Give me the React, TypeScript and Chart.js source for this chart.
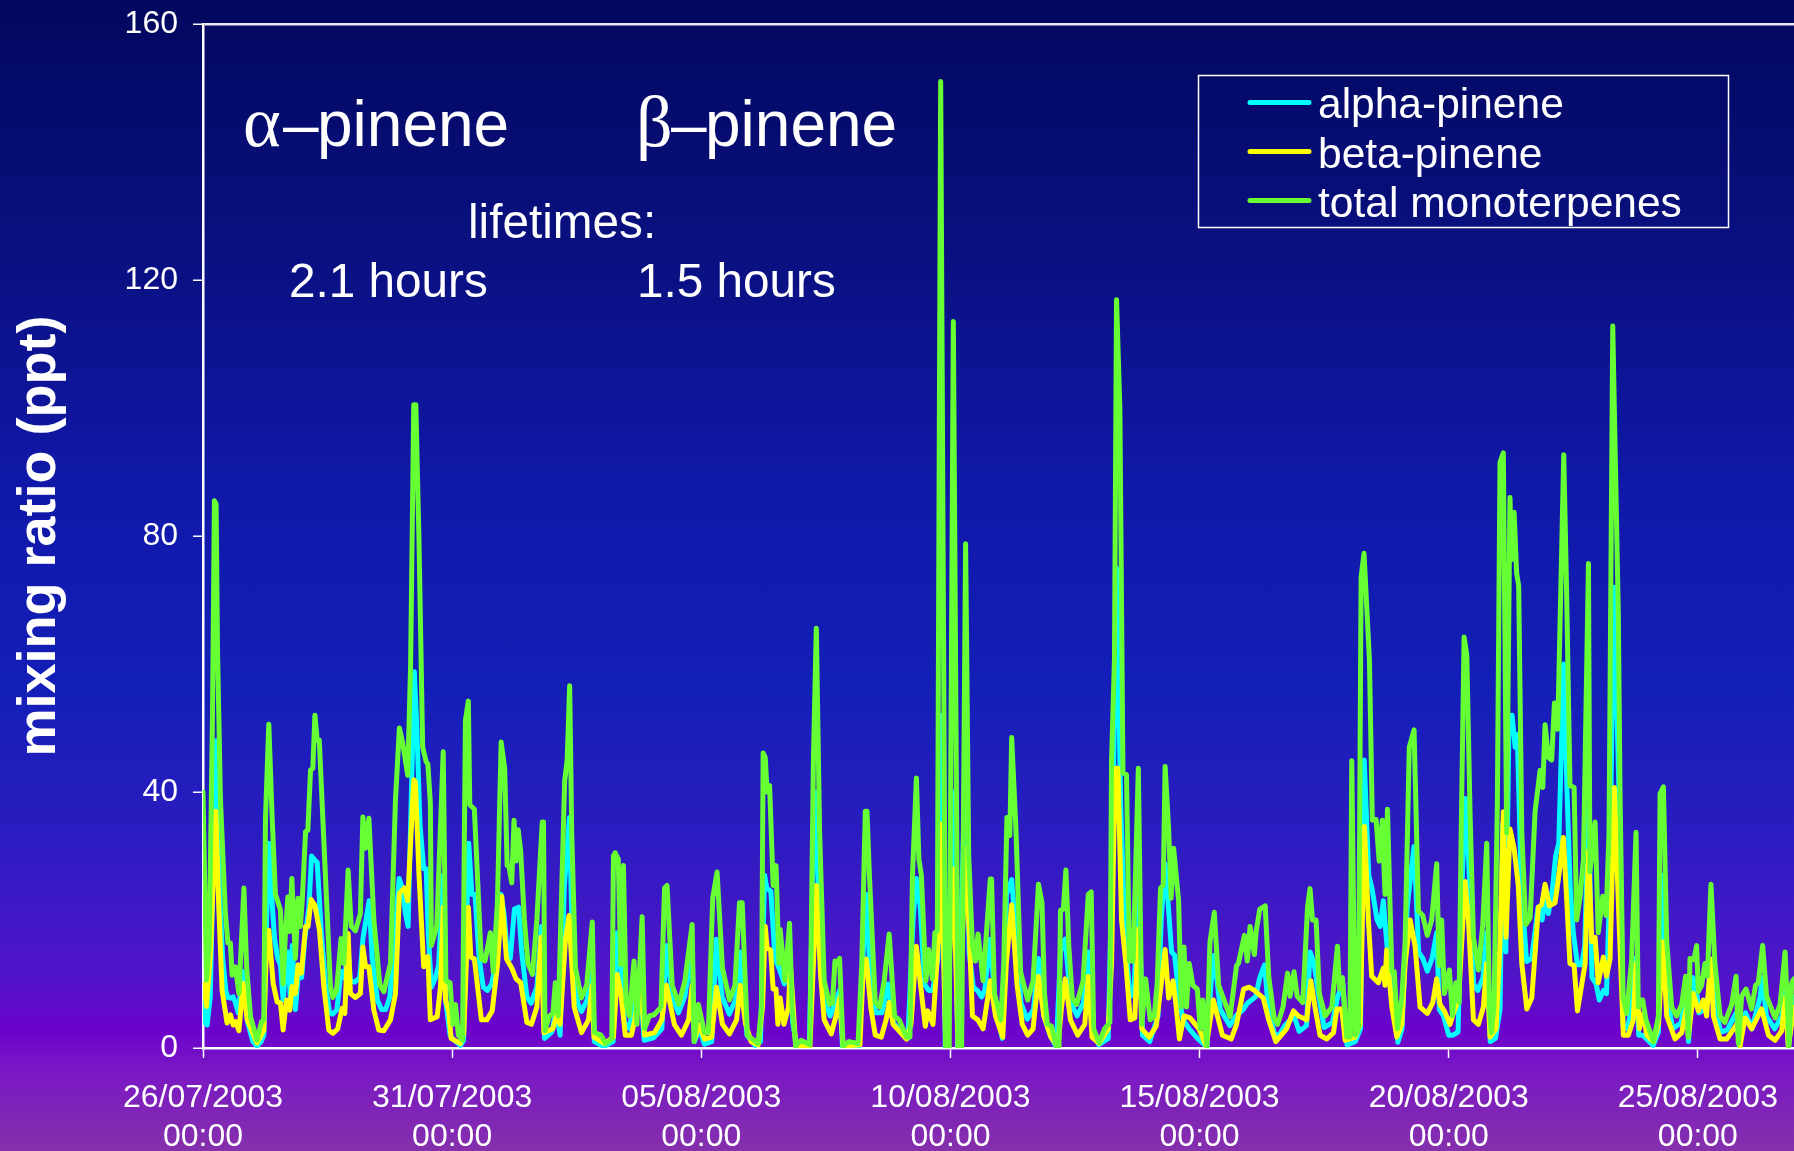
import React, { useEffect, useRef } from "react";
import { Chart, registerables } from "chart.js";

Chart.register(...registerables);

const dateLabels = ["26/07/2003", "31/07/2003", "05/08/2003", "10/08/2003", "15/08/2003", "20/08/2003", "25/08/2003"];
const timeLabel = "00:00";
const seriesNames = ["alpha-pinene", "beta-pinene", "total monoterpenes"];

// [hours since 26/07/2003 00:00, mixing ratio in ppt]
const totalMonoterpenes = [
[0,40],[1.7,10.6],[3,16],[4.5,50],[5.5,85.5],[6.3,85],[7,62],[8.4,38.8],[10.8,21],[12,16.4],[13.2,16.4],[14,11.4],[15.6,12.7],[17.3,8.5],[19.7,25],[21,12.7],[22.9,4.9],[26,1.2],[28.2,4.1],[29.3,4.4],[30.1,36],[31.7,50.6],[33.3,36],[34.9,24],[37.3,21.6],[38.6,10],[39.7,18],[40.9,23.6],[41.7,18.2],[42.8,26.5],[44.5,14],[45.8,23.4],[46.9,19],[47.8,23],[49.4,33.8],[50.5,34],[51.8,43.4],[52.9,43.7],[53.9,52],[55,48.1],[56,48.1],[59.8,21],[61.4,9.6],[62.5,7.9],[64.3,9],[66.5,17.1],[67.8,13.2],[69.9,27.8],[71.4,19],[73.4,18.3],[75.8,21],[77,36.1],[78.3,31.2],[79.9,35.9],[82.3,20],[85.2,9.8],[87.1,8.8],[90.3,13.2],[92.7,38.8],[94.6,50],[96.2,47.6],[98.6,42.6],[100,60],[101.5,100.5],[102.5,100.5],[104,79.7],[105.8,47],[107.5,44.7],[108.3,44.4],[109.5,38.3],[110,16],[112.6,19],[115.7,46.3],[117,10.5],[119,10.2],[120.4,3.7],[121.6,6.8],[123,2],[125,1.2],[126.4,51.2],[127.8,54.2],[128.5,38],[130.7,37.3],[132.4,25.4],[134,13.9],[135.8,13.6],[138.4,18],[139.8,11.9],[141.8,22.7],[143.6,47.8],[145.3,43.7],[146.5,28.5],[147.3,28.5],[148.7,25.8],[149.8,35.6],[150.8,29.2],[151.8,34.1],[153,30.8],[154.8,20],[156.5,13.2],[158.7,11.5],[160.8,20],[163.4,35.3],[164,35.3],[164.7,2.7],[166.8,5],[168.5,5.4],[169.7,10.2],[171.1,5],[174.2,41.7],[175.4,45],[176.6,56.6],[177.6,33.6],[179.4,12.5],[182.2,7.8],[184.8,9.8],[187.5,19.7],[188.5,2.4],[191.7,2],[194,0.7],[196.9,1.4],[197.7,30],[198.5,30.5],[200,29.5],[201.2,13],[202.5,28.5],[203.8,7],[205.4,5],[207.6,13.6],[209,3.7],[211.5,20.5],[212.7,3],[215,5],[217.3,5.2],[220.6,6.4],[222.3,25],[223.5,25.4],[226,9.8],[229.2,6.8],[232.1,10.5],[235.6,19.3],[236.5,1],[238.6,6.8],[241.5,2.4],[243.4,2.4],[245.5,23.4],[247.6,27.5],[250.2,12.5],[253.6,7.5],[256.2,9.8],[258.4,22.7],[259.7,22.7],[262.2,2],[267.4,0.7],[269,6.4],[269.8,46.1],[270.8,45.4],[271.7,40],[272.9,41],[274.6,25.4],[276,28.5],[277.4,13.2],[278,18.5],[280.3,10.5],[282.5,19.5],[283.7,6.4],[285.5,0.3],[288,1.2],[292.3,0.5],[294,45],[295.4,65.6],[297,33.6],[299.2,10.5],[301.8,6.8],[303.2,7],[304.4,13.6],[305.6,13.2],[306.6,14],[308.3,0.3],[311.2,1],[315.5,0.7],[317.3,13.2],[319,37],[319.8,37],[321,26.8],[323.8,7.1],[325.9,6.4],[328.1,10.5],[330.5,17.8],[333.1,5],[335.3,4.4],[338.8,1.7],[340.5,1.7],[341.7,26.8],[343.6,42.2],[344.8,29.5],[346,27],[348.2,10.5],[349.4,15.4],[351.3,10.8],[352.5,18],[353.7,18.3],[355.3,151],[357.7,0.3],[359.4,0],[361.4,113.5],[363.7,0.3],[365.4,0],[367.3,78.8],[368.8,30],[370.6,16],[372,13.6],[373.3,17.8],[375.7,10.5],[379.2,26.4],[379.8,26.4],[381.2,8.5],[384.3,4.4],[385.7,13.2],[387.2,36],[388.6,33.2],[389.5,48.5],[391.5,34.6],[393.8,11.9],[397.2,7.5],[399.8,10.5],[402.4,25.6],[404.1,22.7],[405.3,8.5],[406.7,3.7],[408.7,3.4],[411,0.3],[412.3,0.3],[413,21.5],[414.4,21.7],[415.6,27.8],[417,16],[418.7,7.8],[420.8,6.8],[423.9,10.5],[426.4,24],[427.8,24.4],[429,3],[431.6,0.8],[434.2,3],[436.8,4],[437.6,45],[439,60.7],[440,116.9],[441.6,100],[443.1,43],[444.8,42.7],[446.2,13.6],[448,13.6],[450.5,43.7],[452.2,3.7],[454,10.8],[456.2,4.4],[458.2,5],[459.6,10.2],[461.2,25],[462.5,25.4],[463.4,44],[465.1,34.2],[466.3,23.4],[467.5,31.2],[469.9,23],[471.2,6.4],[472.5,15.8],[473.7,6.4],[475,13.2],[476.8,9.8],[478.9,9.2],[480.3,3],[481.5,7.5],[483.5,0.3],[485,16.6],[487.1,21.2],[489.2,9.8],[494.7,4.9],[497.8,12.9],[498.7,13.2],[501.6,17.6],[503,13.6],[504.3,19],[506.4,14.6],[507.3,18.3],[509,21.7],[511.6,22.2],[513.3,11.2],[515.9,4.7],[517.6,3.7],[520.2,6.4],[522.4,11.7],[523.6,8.1],[525.5,11.9],[527,8.1],[529.7,7.1],[532,22],[533.2,24.9],[534.4,20],[536.1,20],[537.7,8.5],[540.5,5],[543.7,6.4],[546.4,15.9],[547.4,9.2],[548.8,11],[550.9,1.7],[552.4,1.7],[553.3,44.9],[554.9,2],[556.5,3],[557.8,73.6],[559.2,77.3],[561.8,60.7],[563.2,35.6],[565,35.7],[566.5,29.2],[568,35.6],[569.3,24],[570.5,37.3],[572.6,11.9],[573.8,11.9],[575.3,3],[577.4,7.8],[579,16.6],[581,47],[583.3,49.7],[585.4,21.4],[587.5,20.7],[589.7,17.6],[591.8,20],[594.2,28.8],[595.4,12.9],[596.6,20],[597.9,8.5],[600.3,12.2],[601.8,5],[603.4,10.2],[605,7.1],[606,33.6],[607.4,64.2],[608.7,61.4],[610.3,36.3],[611.9,17.3],[614.3,12.2],[616.4,19.3],[618.3,32],[619.6,6.4],[620.5,2.4],[621.8,6.4],[623.4,37.6],[624.7,91.5],[626.3,93],[627.9,33.6],[629.5,86],[630.3,76.3],[631.5,83.7],[632.7,74.2],[633.7,72.2],[635.2,33.6],[637.1,19.3],[639.2,20.3],[641.6,37],[644,43.4],[645.3,40.7],[646.4,50.5],[648,45.4],[649.6,45],[650.9,53.9],[652.5,49.8],[655.4,92.7],[656.8,70.8],[658.4,41],[660.4,40.7],[661.6,20],[663.2,23.4],[664.9,29.5],[667.3,75.7],[668,27.5],[670.5,35.3],[672,18],[674.2,23.7],[675.8,20.7],[677.2,33.6],[679,112.8],[681.7,67.5],[682.5,40],[684,7.8],[685.7,5.4],[688.1,13.9],[690.2,33.7],[691.3,6.4],[693.4,7.5],[695,4.4],[698.6,1],[701,5],[701.8,39.7],[703.4,40.8],[705,16.6],[707.4,6.4],[709.8,5],[712.2,6.8],[714.1,11.2],[715.4,1.7],[716.2,14],[718.1,13.8],[719.4,16],[720.2,8.8],[721.8,9.8],[723.4,13.2],[724.6,11.2],[726.3,25.6],[728.2,13.2],[730.7,5],[733,4],[736.3,6.8],[738.4,11.2],[739.5,0.7],[741.1,8.1],[743.2,9.2],[745.9,6.1],[747.8,9.8],[749.1,10.2],[751.2,16],[753.1,8.1],[757.2,4.7],[759.6,6.8],[762,15],[763.9,0.3],[765.2,10.2],[766.3,10.8],
];

const betaPinene = [
[0.4,10],[1.7,6.5],[3.6,14.8],[6.2,37],[7.6,22],[9.2,9],[11.6,3.9],[13.2,5.2],[14.5,3.6],[15.7,4.1],[17.3,2.7],[19.3,10.1],[21.3,4.4],[26,0.8],[29.3,2.8],[30.4,13.8],[31.7,18.4],[33.8,10.1],[35.7,7.2],[37.3,7],[38.6,2.8],[40.2,7.5],[41.8,5.9],[42.9,9.6],[44.5,8.5],[45.8,13],[47.4,11.7],[49.4,19],[50.6,19],[52.1,23.2],[53.9,22.3],[56.1,18.4],[58.2,9.6],[60.6,2.8],[62.5,2.3],[64.9,3],[67,6.2],[68.3,5.4],[69.9,17.9],[71,8.5],[73.4,7.9],[75.8,8.5],[77,15.8],[78.3,12.7],[79.9,12.7],[82.3,5.9],[84.7,2.8],[87.1,2.7],[90.3,4.4],[92.7,8.5],[94.6,24.2],[97,25],[98.6,23],[101.5,41.9],[102.3,41.6],[104,27.3],[106.3,12.7],[108.3,14.3],[109.5,4.4],[112.8,4.9],[114.4,9.6],[115.7,22],[116.8,7.5],[118.4,5.7],[119.5,1.5],[124,0.7],[125.6,2.3],[127.8,22],[129,14.2],[130.7,13.9],[134.1,4.4],[136.7,4.4],[139.3,5.8],[141.9,13.2],[143.9,23.7],[146.2,13.9],[148.7,12.5],[150.8,10.8],[153,10.2],[156,4],[158.2,3.7],[160.8,6.4],[162.8,17.3],[164.2,2.4],[168.5,3],[170.2,5],[172,3.7],[174.5,16.6],[176.3,20.7],[178.8,6.4],[182.3,2.4],[185.7,4.4],[187.4,9.8],[188.3,1.7],[193.4,0.7],[197.7,1.7],[199.5,11.5],[201.2,8.8],[203.4,2],[206.3,2],[208,4.4],[210.6,10.2],[212.7,2],[217.5,2.4],[221,4.4],[223.2,9.8],[227,3.7],[230.4,2],[233.9,4.4],[235.6,9.8],[236.8,1.4],[239,3.7],[241.6,1.4],[245,1.7],[247.3,9.5],[250.2,3.7],[253.6,2.2],[257,4.4],[258.8,9.8],[261.4,3.7],[264,1],[267.4,0.5],[269.5,6.4],[270.8,19],[271.7,15.6],[273.4,15.3],[274.6,9.2],[276,9.2],[276.9,3.7],[278,7.8],[279.8,3.7],[282,6.4],[282.9,13.2],[285.5,0.3],[292.3,0.3],[294,13.2],[295.4,25.4],[297.5,11.2],[299.2,4.4],[302.6,2.2],[305.2,5.4],[306.6,7.8],[308.3,0.3],[316.4,0.5],[318.1,13.2],[319.5,13.9],[321.6,6.4],[323.8,2],[326.7,1.7],[329,4.4],[330.5,7.1],[332.4,3.7],[338.8,1.4],[341,3.7],[343.6,15.9],[345.6,9.8],[347.9,3.4],[349.1,5.8],[351.6,3.7],[354.2,17.3],[355.3,35],[357.7,0.5],[361.4,28],[363.7,0.3],[367.5,31.2],[370.6,5],[373.2,4.4],[375.7,3],[379.2,10.5],[381.7,5],[385.2,1.7],[386.9,13.2],[389.5,22.4],[392.1,9.8],[394.6,3.7],[397.2,2],[399.8,3],[402.4,11.2],[405,5],[408.4,1.7],[411.8,0.3],[413.5,6.4],[415.3,10.8],[417.8,4.4],[421.3,2],[424.7,3.7],[426.4,11.2],[428.2,1.7],[431.6,0.7],[436,3],[437.6,13.2],[439.3,43.7],[440.7,43.7],[442.4,20],[444.5,13.2],[446.6,4.4],[448.8,4.7],[450.5,18.6],[452.2,3],[455.7,1.7],[459.1,3.4],[461.7,10.5],[463.4,15.4],[465.1,7.8],[467.2,10.5],[468.6,6.8],[470.3,1.4],[472.5,5],[475.4,4.7],[479.7,3],[483.2,0.3],[486.6,7.5],[491,2],[495.2,1.4],[497.8,3.7],[501.2,9.2],[503.8,9.5],[506.4,9],[510.7,7.8],[513.3,4.4],[516.7,1],[521.9,3],[525.2,5.8],[527.6,5],[531.6,4.4],[533.6,10.5],[535.6,6.4],[538,2],[541.3,1.4],[544.5,2.4],[546.1,6.1],[548.5,6.1],[550.1,1.2],[554.9,1.7],[557.3,3.7],[559.4,34.6],[561.3,20],[562.9,11.2],[566.1,10.2],[568.5,12.5],[569.3,9.8],[570.1,15.3],[572.6,6.4],[575,1.7],[577.4,3.7],[579,13.2],[581.4,20],[583.8,15.9],[586.2,6.4],[589.7,5.4],[592.3,7.1],[594.2,10.8],[595.8,6.8],[597.9,5.8],[600.6,3.7],[602.2,5.4],[604.7,7.5],[607.9,26],[609.5,20],[611.9,4.4],[614.3,3.7],[616.7,6.4],[618.3,13.2],[619.9,1.7],[622.8,3],[624.7,16.6],[626.3,36.9],[627.6,17.3],[629.5,34.2],[631.5,31.2],[633.5,25.4],[635.2,13.2],[637.6,6.1],[640,7.8],[643.2,22],[644.8,22.4],[646.4,25.6],[648.5,22.2],[651.2,22.7],[652.8,26.4],[655.2,32.9],[656.8,23.4],[658.4,13.2],[660.4,12.9],[662,5.8],[664,9.8],[665.7,13.2],[667.3,30.8],[668.9,16.6],[670.5,17.3],[672,10.2],[674.5,14.2],[676,11.2],[677.7,13.9],[679.8,40.7],[681.7,22.7],[684.1,2],[686.5,2],[688.9,4.4],[690.2,13.2],[691.8,3],[693.7,5.4],[695.4,2],[698.6,1],[701,3.7],[703.1,16.6],[705,5],[709,1.4],[712.2,2.4],[714.6,6.4],[715.4,1.7],[717.8,8.5],[720.2,5.8],[722.6,7.5],[724.2,5],[726.2,13.9],[727.5,5],[730.7,1.4],[733.9,1.4],[738.7,3.7],[740.3,0.3],[742.7,4.7],[745.9,3],[750.7,6.1],[754,2],[757.2,1.2],[760.4,2.7],[762,7.8],[763.6,0.3],[766.3,6.4],
];

const alphaPinene = [
[0,8],[1,4],[2,3.6],[3.5,8],[5,30],[6.2,48],[7,38],[8,24],[9.5,14],[11,9],[12,7.9],[13.5,7.8],[14.5,8],[15.7,7],[17,5.5],[19,12],[20,9],[21.5,4],[24,1],[26,0.3],[28,1],[29.3,2],[30.5,18],[31.7,32],[33,24],[34.5,17],[36,14],[37.3,13],[38.6,7.5],[39.5,11],[41,15],[42,8],[43,16],[44.5,6],[46,12],[47.5,11],[49,17],[51,22],[52.3,30],[53.5,29.5],[55,29],[57,18],[59,10],[61,5.5],[62.5,5.3],[64.5,6],[66.5,12],[68,11],[70,15],[71,10.5],[73,10.3],[75.5,11],[77,17],[78.5,20],[80,23],[81.5,14],[84,7.5],[86,6],[88,6],[90,8],[92.5,18],[94.5,26.5],[96,25],[97.5,21],[98.8,19],[100,35],[101.8,58.8],[103,50],[104.5,35],[106.3,28],[107.5,28],[108.5,18],[110,9.5],[112,11],[113.5,13],[115.7,27],[117,7],[119,2],[121,1.2],[124,0.4],[125.5,1.2],[127,20],[128,32],[129.5,24],[131,24],[133,14],[135,9.5],[137,9],[139,10],[141,13],[143.5,24],[145,21],[146.5,15],[148,14],[150,21.7],[152,22],[153.5,15],[156,8],[158,7],[160.8,9.5],[163,19],[164.5,1.5],[168,2.5],[170,6],[172,2],[174,25],[176.5,36],[178,15],[180.5,7],[182.3,5.7],[185,7.5],[187.4,14],[188.5,1],[193,0.2],[197.5,1],[199.5,18],[201,14],[203,4],[205.5,3],[207.5,8],[210,12],[212.5,1.2],[217,1.6],[221,3],[223.2,16],[226,8],[229,5.5],[232,8],[235.6,15],[236.7,1],[239,3],[241.5,0.6],[245,1],[247.3,17],[250,8],[253.5,5.3],[256.5,7.5],[258.8,15],[262,2],[266,0.4],[268.5,1],[270.5,27],[271.5,25],[273.5,24.5],[275.5,14],[278,12],[280,10],[282.5,14],[284,4],[286,0.3],[292,0.2],[294,30],[295.4,40],[297,18],[299.5,7.5],[302,5],[304.5,7],[306.6,9],[308,0.3],[316,0.2],[318,15],[319.5,24],[321.5,10],[324,5.5],[327,5.5],[330,10],[332.5,4],[336,2.5],[339.5,1.5],[342,20],[343.6,26.5],[345.5,22],[347.5,10],[349.5,9],[351.5,9],[354,14],[355.3,52],[357.5,0.3],[361.4,40],[363.5,0.3],[367.3,45],[369,15],[371,9.5],[373,9],[375,8],[376.5,9],[379.2,17],[381.5,7],[385,1.5],[387,24],[389.5,26.3],[391.5,18],[394,7],[397,4.5],[400,6],[402.4,14],[405,5],[408,2],[411,0.2],[413,15],[415.3,17],[418,7],[421,5],[424,7],[426.5,15],[429,2.5],[431.5,0.5],[436,1.5],[438,30],[440,75],[442,38],[444,18],[446.5,8],[448.5,9],[450.5,28],[452.5,2],[456,1],[460,5],[461.5,20],[463.4,28.8],[465,22],[466.5,15],[468,14.5],[470,8],[472,4.5],[475,3],[479,1.5],[483.5,0.2],[485.5,10],[487.1,14.5],[490,6],[494.5,3.5],[497.5,5],[501,6],[503,7],[505,7.5],[507,8],[509,11],[511.3,13],[513,6.5],[516,2.3],[518,1.8],[521,3.5],[525.5,5],[528,2.6],[531.5,3.5],[533.2,15],[535,13.5],[537,9],[540,3.2],[544,4],[546.5,8],[549,10],[551,0.5],[555,1],[557.5,3],[559.3,45],[561.5,27],[563,25],[565.5,20],[567,19],[568.5,23],[570,17],[572.5,8],[574,7],[575.5,0.9],[577.5,3],[580,22],[583.3,31.5],[585.5,15],[587.5,14],[589.7,12],[592,14],[594.2,18],[595.5,6],[597.5,5],[600,2],[602,2],[604.5,2.5],[606,22],[608,39],[609.5,30],[612,10],[614,9],[616.5,11],[618.3,18],[620,1],[622.5,1.5],[624.7,6],[626,35],[627.5,15],[629,50],[630.5,52],[632,47],[633,49],[635,25],[637.5,13.5],[640,14],[643,22],[645,20],[646.5,24],[648,21],[650,25],[651.5,30],[653,32],[655.4,60],[657,40],[658.5,25],[660,18],[662,13],[664,13],[665.5,16],[667.3,38],[669,11],[671,10],[672.5,7.5],[674.5,9],[676,8.5],[677.5,25],[679.5,72],[682,40],[684,3.5],[686,3],[688,6],[690,14],[691.5,2],[693.5,2],[695,1.5],[698.5,0.4],[701,2.5],[703,27],[705,8],[708,3],[712,4],[714.5,9],[715.5,1],[717.5,11],[719,10],[720.5,5.5],[723,6],[725,8],[726.3,13],[728,7],[731,2.5],[734,2.8],[738.5,5.5],[740,0.3],[743,5.5],[746,3],[750,8],[751,11],[753,5],[757,3],[760.5,5],[762,10],[763.6,0.2],[766.3,8],
];

const toPoints = (pairs: number[][]) => pairs.map(([x, y]) => ({ x, y }));

const seriesColors = ["#00FFFF", "#FFFF00", "#66FF33"];
const SANS = '"Liberation Sans", Arial, sans-serif';

const annotationPlugin = {
  id: "annotationText",
  afterDraw(chart: any) {
    const ctx = chart.ctx;
    ctx.save();
    ctx.fillStyle = "#ffffff";
    ctx.textAlign = "left";
    ctx.textBaseline = "alphabetic";

    ctx.font = `72px "Liberation Serif", serif`;
    ctx.fillText("α", 243, 146);
    ctx.fillText("β", 636, 146);
    ctx.font = `64px ${SANS}`;
    ctx.fillText("–", 283, 146);
    ctx.fillText("pinene", 317, 146);
    ctx.fillText("–", 671, 146);
    ctx.fillText("pinene", 705, 146);

    ctx.font = `47.7px ${SANS}`;
    ctx.fillText("lifetimes:", 468, 238);
    ctx.fillText("2.1 hours", 289, 297);
    ctx.fillText("1.5 hours", 637, 297);

    // legend
    ctx.strokeStyle = "#ffffff";
    ctx.lineWidth = 1.5;
    ctx.strokeRect(1198.5, 75.5, 530, 152);
    ctx.font = `42.5px ${SANS}`;
    const rows = [102.5, 151.5, 200.5];
    const baselines = [118, 168, 217];
    seriesNames.forEach((name, i) => {
      ctx.strokeStyle = seriesColors[i];
      ctx.lineWidth = 5;
      ctx.lineCap = "round";
      ctx.beginPath();
      ctx.moveTo(1250, rows[i]);
      ctx.lineTo(1309, rows[i]);
      ctx.stroke();
      ctx.fillText(name, 1318, baselines[i]);
    });
    ctx.restore();
  },
};

export default function App() {
  const ref = useRef<HTMLCanvasElement>(null);
  useEffect(() => {
    const lineStyle = (i: number) => ({
      borderColor: seriesColors[i],
      backgroundColor: seriesColors[i],
      borderWidth: 5,
      pointRadius: 0,
      tension: 0,
      fill: false,
      borderJoinStyle: "round" as const,
      borderCapStyle: "round" as const,
      order: 3 - i,
    });
    const chart = new Chart(ref.current!, {
      type: "line",
      data: {
        datasets: [
          { label: seriesNames[0], data: toPoints(alphaPinene), ...lineStyle(0) },
          { label: seriesNames[1], data: toPoints(betaPinene), ...lineStyle(1) },
          { label: seriesNames[2], data: toPoints(totalMonoterpenes), ...lineStyle(2) },
        ],
      },
      options: {
        animation: false,
        responsive: false,
        events: [],
        layout: { padding: { top: 24, right: 0, bottom: 0, left: 0 } },
        plugins: { legend: { display: false }, tooltip: { enabled: false }, title: { display: false } },
        scales: {
          x: {
            type: "linear",
            min: 0,
            max: 766.3,
            afterFit: (s: any) => { s.height = 103; s.paddingLeft = 0; s.paddingRight = 0; },
            border: { color: "#ffffff", width: 2.5 },
            grid: { color: "rgba(0,0,0,0)", tickColor: "#ffffff", tickLength: 10, tickWidth: 1.5, drawOnChartArea: false },
            ticks: {
              stepSize: 120,
              includeBounds: false,
              autoSkip: false,
              maxRotation: 0,
              minRotation: 0,
              padding: 20,
              color: "#ffffff",
              font: { family: SANS, size: 32, lineHeight: 1.24 },
              callback: (v: any) => [dateLabels[Math.round(Number(v) / 120)], timeLabel],
            },
          },
          y: {
            min: 0,
            max: 160,
            afterFit: (s: any) => { s.width = 203; s.paddingTop = 0; s.paddingBottom = 0; },
            border: { color: "#ffffff", width: 2.5 },
            grid: {
              color: (c: any) => (c.tick && c.tick.value === 160 ? "#e8e8f0" : "rgba(0,0,0,0)"),
              lineWidth: 2.5,
              tickColor: "#ffffff",
              tickLength: 10,
              tickWidth: 1.5,
            },
            ticks: {
              stepSize: 40,
              padding: 15,
              color: "#ffffff",
              font: { family: SANS, size: 32 },
            },
            title: {
              display: true,
              text: "mixing ratio (ppt)",
              color: "#ffffff",
              font: { family: SANS, size: 54, weight: "bold" },
              padding: { top: 8, bottom: 0 },
            },
          },
        },
      },
      plugins: [annotationPlugin],
    } as any);
    return () => chart.destroy();
  }, []);
  return (
    <div
      style={{
        position: "absolute",
        left: 0,
        top: 0,
        width: 1794,
        height: 1151,
        overflow: "hidden",
        background:
          "linear-gradient(180deg, #02085e 0%, #0a1080 22%, #1018a8 42%, #141fb8 60%, #2a1cc0 72%, #5214c8 85%, #6c02cc 89.5%, #7a18c4 93%, #8530ac 100%)",
      }}
    >
      <canvas ref={ref} width={1794} height={1151} style={{ display: "block" }} />
    </div>
  );
}
